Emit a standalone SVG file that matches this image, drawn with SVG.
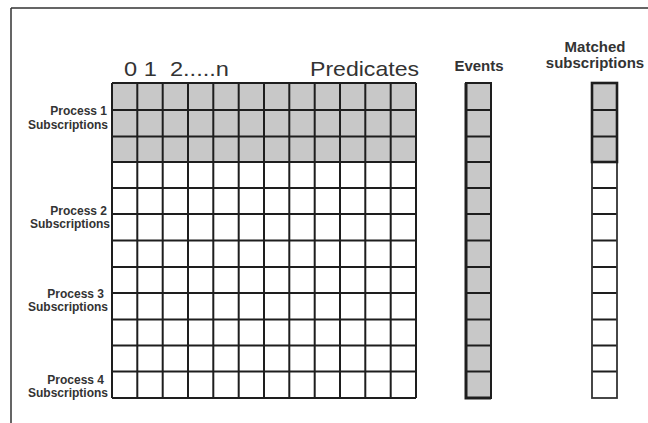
<svg xmlns="http://www.w3.org/2000/svg" width="648" height="423" viewBox="0 0 648 423">
<style>
.lbl{font-family:"Liberation Sans",Arial,sans-serif;font-weight:bold;font-size:12px;fill:#333;text-anchor:end}
.hdr{font-family:"Liberation Sans",Arial,sans-serif;font-weight:bold;font-size:15px;fill:#333;text-anchor:middle}
.big{font-family:"Liberation Sans",Arial,sans-serif;font-size:21px;fill:#333;white-space:pre}
.grid{stroke:#1e1e1e;stroke-width:2;fill:none}
.shade{fill:#c8c8c8}
</style>
<rect width="648" height="423" fill="#fff"/>
<g id="frame"><path d="M11,8 H648 M11,8 V423" stroke="#333" stroke-width="1.5" fill="none"/></g>
<g id="headers">
<text class="big" xml:space="preserve" x="124" y="76" textLength="105" lengthAdjust="spacingAndGlyphs">0 1  2.....n</text>
<text class="big" x="310" y="76" textLength="109" lengthAdjust="spacingAndGlyphs">Predicates</text>
<text class="hdr" x="479" y="71">Events</text>
<text class="hdr" x="595" y="52">Matched</text>
<text class="hdr" x="595" y="68">subscriptions</text>
</g>
<g id="labels">
<text class="lbl" x="107" y="115">Process 1</text>
<text class="lbl" x="108" y="129">Subscriptions</text>
<text class="lbl" x="107" y="215">Process 2</text>
<text class="lbl" x="110" y="228">Subscriptions</text>
<text class="lbl" x="104" y="298">Process 3</text>
<text class="lbl" x="108" y="311">Subscriptions</text>
<text class="lbl" x="104" y="384">Process 4</text>
<text class="lbl" x="108" y="397">Subscriptions</text>
</g>
<g id="predicate-matrix">
<rect class="shade" x="112" y="83" width="304" height="79"/>
<path class="grid" d="M112,83V398 M137.3,83V398 M162.7,83V398 M188,83V398 M213.3,83V398 M238.7,83V398 M264,83V398 M289.3,83V398 M314.7,83V398 M340,83V398 M365.3,83V398 M390.7,83V398 M416,83V398
M112,83H416 M112,110H416 M112,136.5H416 M112,162H416 M112,188H416 M112,214H416 M112,240.5H416 M112,267H416 M112,293H416 M112,319.5H416 M112,345.5H416 M112,371.5H416 M112,398H416"/>
</g>
<g id="events">
<rect class="shade" x="466" y="83" width="25" height="315"/>
<path class="grid" d="M466,110H491 M466,136.5H491 M466,162H491 M466,188H491 M466,214H491 M466,240.5H491 M466,267H491 M466,293H491 M466,319.5H491 M466,345.5H491 M466,371.5H491"/>
<rect x="466" y="83" width="25" height="315" fill="none" stroke="#1e1e1e" stroke-width="2"/>
<path d="M466,83V398H491" stroke="#1e1e1e" stroke-width="3" fill="none"/>
</g>
<g id="matched-subscriptions">
<rect class="shade" x="592" y="83" width="25" height="79"/>
<path class="grid" d="M592,110H617 M592,136.5H617 M592,188H617 M592,214H617 M592,240.5H617 M592,267H617 M592,293H617 M592,319.5H617 M592,345.5H617 M592,371.5H617"/>
<rect x="592" y="83" width="25" height="315" fill="none" stroke="#333" stroke-width="1.8"/>
<rect x="592" y="83" width="25" height="79" fill="none" stroke="#1e1e1e" stroke-width="2.6"/>
</g>
</svg>
